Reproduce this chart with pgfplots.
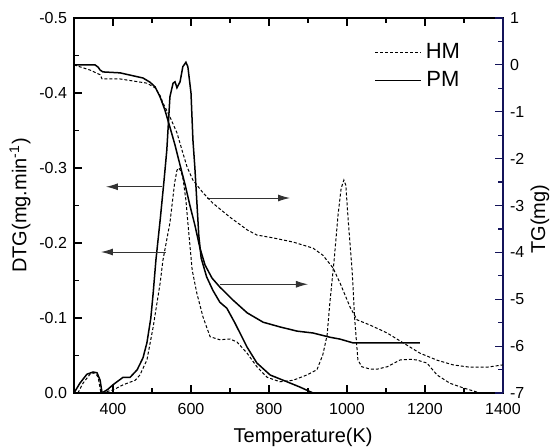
\documentclass[border=0pt]{standalone}
\usepackage{fontspec}
\setmainfont{Liberation Sans}
\usepackage{pgfplots}
\pgfplotsset{compat=1.18}
\usetikzlibrary{arrows.meta}
\definecolor{navy}{RGB}{20,20,90}
\tikzset{arr/.style={-{Latex[length=6pt,width=3.5pt]}, black!80, line width=0.5pt}}

\begin{document}
\begin{tikzpicture}
\pgfplotsset{
  every axis/.append style={
    scale only axis, width=214.5pt, height=187.5pt,
    xmin=300, xmax=1400,
    tick label style={font=\fontsize{8}{9.5}\selectfont},
    label style={font=\fontsize{10}{12}\selectfont},
    /pgf/number format/assume math mode=true,
    /pgf/number format/set thousands separator={},
    tick align=inside,
    major tick length=4pt, minor tick length=2.5pt,
    tick style={black, line width=0.6pt},
  },
  hm/.style={black, line width=0.5pt, dash pattern=on 1.5pt off 1pt},
  pm/.style={black, line width=0.75pt},
}
% DTG, left axis (reversed)
\begin{axis}[
  axis line style={line width=0.9pt},
  y dir=reverse, ymin=-0.5, ymax=0,
  ytick={-0.5,-0.4,-0.3,-0.2,-0.1,0},
  minor y tick num=1,
  xtick={400,600,...,1400}, minor x tick num=1,
  xtick pos=both, xticklabel pos=lower,
  xticklabel style={yshift=-1.5pt},
  ytick pos=left,
  yticklabel style={/pgf/number format/.cd, fixed, fixed zerofill, precision=1},
  xlabel={Temperature(K)}, ylabel={DTG(mg.min\textsuperscript{-1})},
  x label style={at={(axis description cs:0.534,-0.117)}, anchor=center},
  y label style={at={(axis description cs:-0.126,0.5)}, anchor=center},
  legend style={at={(0.685,0.955)}, anchor=north west, draw=none, fill=none,
    font=\fontsize{11}{13}\selectfont, row sep=1pt},
  legend image code/.code={\draw[#1] (0pt,0pt) -- (23pt,0pt);},
]
\addplot[hm] coordinates {
  (310,0) (323,-0.013) (341,-0.025) (354,-0.027) (362,-0.021) (369,0)
  (400,-0.004) (426,-0.011) (457,-0.017) (469,-0.024) (487,-0.044)
  (503,-0.088) (521,-0.147) (528,-0.177) (546,-0.227) (558,-0.280)
  (564,-0.297) (569,-0.300) (575,-0.295) (580,-0.284) (587,-0.257)
  (592,-0.227) (603,-0.164) (615,-0.133) (631,-0.101) (649,-0.075)
  (674,-0.071) (700,-0.072) (718,-0.068) (744,-0.053) (769,-0.035)
  (795,-0.021) (828,-0.015) (862,-0.017) (897,-0.024) (923,-0.031)
  (938,-0.051) (949,-0.077) (956,-0.120) (967,-0.177) (977,-0.237)
  (985,-0.273) (992,-0.284) (997,-0.277) (1003,-0.231) (1013,-0.164)
  (1020,-0.097) (1028,-0.044) (1038,-0.035) (1059,-0.032) (1079,-0.032)
  (1103,-0.035) (1136,-0.044) (1162,-0.045) (1179,-0.044) (1205,-0.040)
  (1231,-0.024) (1264,-0.013) (1297,-0.007) (1341,0) (1400,0)
};
\addlegendentry{HM}
\addplot[pm] coordinates {
  (300,0) (315,-0.013) (333,-0.025) (349,-0.028) (359,-0.027) (367,-0.017)
  (372,0) (387,-0.005) (400,-0.011) (426,-0.021) (444,-0.021) (462,-0.031)
  (477,-0.047) (487,-0.067) (497,-0.100) (503,-0.133) (510,-0.177)
  (521,-0.231) (531,-0.284) (538,-0.324) (546,-0.395) (554,-0.413)
  (559,-0.415) (564,-0.407) (572,-0.415) (579,-0.435) (587,-0.441)
  (592,-0.435) (600,-0.400) (605,-0.337) (610,-0.300) (615,-0.255)
  (620,-0.210) (626,-0.180) (640,-0.155) (656,-0.137) (674,-0.121)
  (692,-0.113) (713,-0.093) (744,-0.061) (769,-0.040) (803,-0.024)
  (846,-0.015) (879,-0.008) (913,0)
};
\addlegendentry{PM}
\draw[arr] (axis cs:526,-0.275) -- (axis cs:382,-0.275);
\draw[arr] (axis cs:536,-0.188) -- (axis cs:369,-0.188);
\draw[arr] (axis cs:641,-0.260) -- (axis cs:854,-0.260);
\draw[arr] (axis cs:674,-0.145) -- (axis cs:900,-0.145);
\end{axis}
% TG, right axis
\begin{axis}[
  axis x line=none,
  axis y line*=right,
  ymin=-7, ymax=1, ytick={-7,-6,...,1}, minor y tick num=1,
  y axis line style={navy, line width=1.1pt},
  ytick style={navy, line width=0.6pt},
  ylabel={TG(mg)},
  y label style={at={(axis description cs:1.086,0.464)}, anchor=center},
]
\addplot[hm] coordinates {
  (300,0) (341,-0.11) (367,-0.21) (372,-0.30) (418,-0.30) (487,-0.39)
  (508,-0.49) (521,-0.66) (528,-0.81) (546,-1.11) (564,-1.45) (577,-1.82)
  (590,-2.18) (605,-2.46) (631,-2.73) (656,-2.95) (700,-3.25) (744,-3.52)
  (769,-3.63) (810,-3.69) (862,-3.78) (913,-3.91) (938,-4.06) (964,-4.33)
  (982,-4.65) (1008,-5.17) (1026,-5.44) (1059,-5.55) (1103,-5.72)
  (1144,-5.93) (1187,-6.15) (1231,-6.30) (1272,-6.40) (1315,-6.45)
  (1359,-6.45) (1400,-6.40)
};
\addplot[pm] coordinates {
  (300,0) (354,0) (362,-0.05) (367,-0.11) (374,-0.15) (418,-0.17)
  (477,-0.28) (495,-0.37) (508,-0.47) (521,-0.69) (533,-0.96) (546,-1.33)
  (559,-1.71) (572,-2.14) (585,-2.56) (597,-2.99) (610,-3.42) (623,-3.91)
  (636,-4.27) (654,-4.55) (674,-4.74) (708,-5.02) (744,-5.29) (785,-5.49)
  (828,-5.59) (872,-5.68) (913,-5.72) (956,-5.81) (982,-5.85) (1015,-5.93)
  (1187,-5.93)
};
\end{axis}
\pgfresetboundingbox
\path (-37pt,-27pt) rectangle (240pt,196.5pt);
\end{tikzpicture}
\end{document}
